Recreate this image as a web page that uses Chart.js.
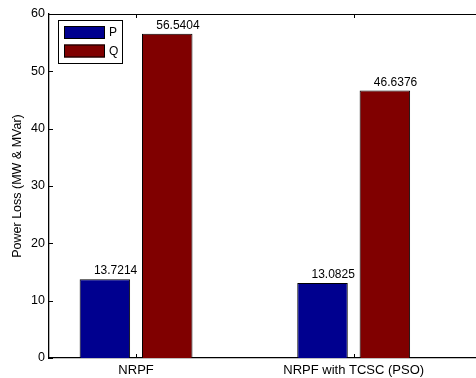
<!DOCTYPE html>
<html>
<head>
<meta charset="utf-8">
<script src="https://cdn.jsdelivr.net/npm/chart.js@4"></script>
<style>
  body { margin: 0; background: #fff; overflow: hidden; }
  canvas { display: block; }
</style>
</head>
<body>
<canvas id="lossChart" width="476" height="378"></canvas>
<script>
const categories = ["NRPF", "NRPF with TCSC (PSO)"];
const seriesNames = ["P", "Q"];
const pLoss = [13.7214, 13.0825];
const qLoss = [56.5404, 46.6376];
const yTicks = [0, 10, 20, 30, 40, 50, 60];

const FONT = "'Liberation Sans', Arial, Helvetica, sans-serif";

function toPoints(values) {
  return values.map((v, i) => ({ x: i, y: v }));
}

// inward ticks + top frame line, matlab style
const framePlugin = {
  id: "frame",
  afterDraw(chart) {
    const ctx = chart.ctx;
    const area = chart.chartArea;
    const xs = chart.scales.x;
    const ys = chart.scales.y;
    ctx.save();
    ctx.strokeStyle = "#000";
    ctx.lineWidth = 1;
    ctx.beginPath();
    ctx.moveTo(area.left, area.top + 0.5);
    ctx.lineTo(area.right, area.top + 0.5);
    yTicks.forEach(t => {
      const y = Math.round(ys.getPixelForValue(t)) + 0.5;
      ctx.moveTo(area.left, y);
      ctx.lineTo(area.left + 4, y);
    });
    categories.forEach((c, i) => {
      const x = Math.round(xs.getPixelForValue(i)) + 0.5;
      ctx.moveTo(x, area.bottom);
      ctx.lineTo(x, area.bottom - 4);
      ctx.moveTo(x, area.top);
      ctx.lineTo(x, area.top + 4);
    });
    ctx.stroke();
    ctx.restore();
  }
};

// value labels above bars
const valuePlugin = {
  id: "values",
  afterDatasetsDraw(chart) {
    const ctx = chart.ctx;
    ctx.save();
    ctx.font = "12px " + FONT;
    ctx.fillStyle = "#000";
    ctx.textAlign = "left";
    ctx.textBaseline = "alphabetic";
    chart.data.datasets.forEach((ds, di) => {
      chart.getDatasetMeta(di).data.forEach((bar, i) => {
        ctx.fillText(ds.data[i].y.toFixed(4), bar.x - 11, bar.y - 5);
      });
    });
    ctx.restore();
  }
};

// boxed legend inside the plot, top left
const boxLegend = {
  id: "boxLegend",
  afterDraw(chart) {
    const ctx = chart.ctx;
    const left = chart.chartArea.left + 9;
    const top = chart.chartArea.top + 6;
    ctx.save();
    ctx.fillStyle = "#fff";
    ctx.fillRect(left, top, 64, 43);
    ctx.strokeStyle = "#000";
    ctx.lineWidth = 1;
    ctx.strokeRect(left + 0.5, top + 0.5, 64, 43);
    ctx.font = "12px " + FONT;
    ctx.textBaseline = "middle";
    chart.data.datasets.forEach((ds, i) => {
      const y = top + 6 + i * 18.5;
      ctx.fillStyle = ds.backgroundColor;
      ctx.fillRect(left + 6, y, 41, 13);
      ctx.strokeStyle = "#000";
      ctx.strokeRect(left + 6.5, y + 0.5, 40, 12);
      ctx.fillStyle = "#000";
      ctx.fillText(ds.label, left + 51, y + 7);
    });
    ctx.restore();
  }
};

new Chart(document.getElementById("lossChart").getContext("2d"), {
  type: "bar",
  data: {
    datasets: [
      { label: seriesNames[0], data: toPoints(pLoss), backgroundColor: "#00008f", borderColor: "#000", borderWidth: 1 },
      { label: seriesNames[1], data: toPoints(qLoss), backgroundColor: "#800000", borderColor: "#000", borderWidth: 1 }
    ]
  },
  options: {
    responsive: false,
    animation: false,
    devicePixelRatio: 1,
    categoryPercentage: 0.573,
    barPercentage: 0.81,
    layout: { padding: { top: 14, right: 0, left: 0, bottom: 0 } },
    plugins: {
      legend: { display: false },
      tooltip: { enabled: false }
    },
    scales: {
      x: {
        type: "linear",
        offset: false,
        min: -0.4,
        max: 1.562,
        afterBuildTicks: axis => { axis.ticks = categories.map((c, i) => ({ value: i })); },
        afterFit: axis => { axis.height = 20; },
        grid: { display: false, drawTicks: false, offset: false },
        border: { display: true, color: "#000", width: 1.3 },
        ticks: {
          autoSkip: false,
          maxRotation: 0,
          padding: 5,
          color: "#000",
          font: { family: FONT, size: 13 },
          callback: v => categories[v]
        }
      },
      y: {
        min: 0,
        max: 60,
        afterBuildTicks: axis => { axis.ticks = yTicks.map(v => ({ value: v })); },
        afterFit: axis => { axis.width = 49; },
        grid: { display: false, drawTicks: false },
        border: { display: true, color: "#000", width: 1.3 },
        ticks: {
          padding: 4,
          color: "#000",
          font: { family: FONT, size: 12.5 }
        },
        title: {
          display: true,
          text: "Power Loss (MW & MVar)",
          color: "#000",
          font: { family: FONT, size: 12.5 },
          padding: { top: 10, bottom: 4 }
        }
      }
    }
  },
  plugins: [framePlugin, valuePlugin, boxLegend]
});
</script>
</body>
</html>
